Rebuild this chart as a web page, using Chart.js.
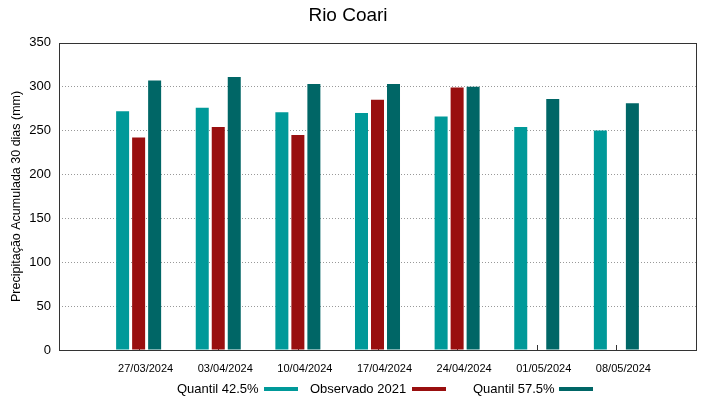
<!DOCTYPE html>
<html>
<head>
<meta charset="utf-8">
<script src="https://cdn.jsdelivr.net/npm/chart.js@4.4.1/dist/chart.umd.min.js"></script>
<style>
  html, body { margin: 0; padding: 0; background: #fff; }
  #wrap { position: relative; width: 719px; height: 399px; }
  #c { position: absolute; left: 0; top: 0; }
  .lg { position: absolute; font-family: "Liberation Sans", Arial, sans-serif; font-size: 13px; line-height: 16px; color: #000; white-space: nowrap; }
  .sw { position: absolute; height: 4px; width: 34px; }
</style>
</head>
<body>
<div id="wrap">
  <canvas id="c" width="719" height="399"></canvas>
  <div class="lg" style="left:177px; top:381px;">Quantil 42.5%</div>
  <div class="sw" style="left:264px; top:387px; background:#009999;"></div>
  <div class="lg" style="left:310px; top:381px;">Observado 2021</div>
  <div class="sw" style="left:412px; top:387px; background:#990f0f;"></div>
  <div class="lg" style="left:473px; top:381px;">Quantil 57.5%</div>
  <div class="sw" style="left:559px; top:387px; background:#006666;"></div>
</div>
<script>
const chartTitle = 'Rio Coari';
const yTitle = 'Precipitação Acumulada 30 dias (mm)';
const dates = ['27/03/2024', '03/04/2024', '10/04/2024', '17/04/2024', '24/04/2024', '01/05/2024', '08/05/2024'];
const quantil425 = [272, 276, 271, 270, 266, 254, 250];
const observado2021 = [242, 254, 245, 285, 299, null, null];
const quantil575 = [307, 311, 303, 303, 300, 286, 281];
const seriesNames = ['Quantil 42.5%', 'Observado 2021', 'Quantil 57.5%'];
const seriesColors = ['#009999', '#990f0f', '#006666'];

const FONT = '"Liberation Sans", Arial, sans-serif';
// pad with empty slots at both ends (axis extends one category beyond the data)
const labels = [''].concat(dates, ['']);
const pad = arr => [null].concat(arr, [null]);

const frame = {
  id: 'frame',
  beforeDatasetsDraw(chart) {
    const { ctx, chartArea: a, scales: { x } } = chart;
    ctx.save();
    ctx.strokeStyle = '#333';
    ctx.lineWidth = 1;
    for (let i = 1; i <= dates.length; i++) {
      const px = Math.round(x.getPixelForValue(i)) + 0.5;
      ctx.beginPath();
      ctx.moveTo(px, a.bottom);
      ctx.lineTo(px, a.bottom - 5);
      ctx.stroke();
    }
    ctx.restore();
  },
  afterDatasetsDraw(chart) {
    const { ctx, chartArea: a } = chart;
    ctx.save();
    ctx.strokeStyle = '#333';
    ctx.lineWidth = 1;
    ctx.strokeRect(Math.round(a.left) + 0.5, Math.round(a.top) + 0.5,
                   Math.round(a.right - a.left), Math.round(a.bottom - a.top));
    ctx.restore();
  }
};

new Chart(document.getElementById('c'), {
  type: 'bar',
  data: {
    labels: labels,
    datasets: [
      { label: seriesNames[0], data: pad(quantil425), backgroundColor: seriesColors[0] },
      { label: seriesNames[1], data: pad(observado2021), backgroundColor: seriesColors[1] },
      { label: seriesNames[2], data: pad(quantil575), backgroundColor: seriesColors[2] }
    ]
  },
  options: {
    responsive: false,
    devicePixelRatio: 1,
    animation: false,
    categoryPercentage: 0.603,
    barPercentage: 0.8125,
    layout: { padding: { left: 0, right: 23, top: 0, bottom: 19 } },
    plugins: {
      legend: { display: false },
      tooltip: { enabled: false },
      title: {
        display: true,
        text: chartTitle,
        color: '#000',
        font: { family: FONT, size: 19, weight: 'normal' },
        padding: { top: 4, bottom: 16 }
      }
    },
    scales: {
      x: {
        offset: false,
        grid: { display: false },
        border: { display: false },
        ticks: {
          autoSkip: false,
          maxRotation: 0,
          color: '#000',
          padding: 4,
          labelOffset: 7,
          font: { family: FONT, size: 11 }
        },
        afterFit(s) { s.height = 30; }
      },
      y: {
        min: 0,
        max: 350,
        ticks: {
          stepSize: 50,
          color: '#000',
          padding: 8,
          font: { family: FONT, size: 13 }
        },
        grid: {
          color: ctx => (ctx.tick && (ctx.tick.value === 0 || ctx.tick.value === 350)) ? 'rgba(0,0,0,0)' : '#999',
          drawTicks: false, tickLength: 0, lineWidth: 1
        },
        border: { display: false, dash: [1, 2] },
        title: {
          display: true,
          text: yTitle,
          color: '#000',
          font: { family: FONT, size: 12.5 },
          padding: { top: 9, bottom: 0 }
        },
        afterFit(s) { s.width = 59; }
      }
    }
  },
  plugins: [frame]
});
</script>
</body>
</html>
